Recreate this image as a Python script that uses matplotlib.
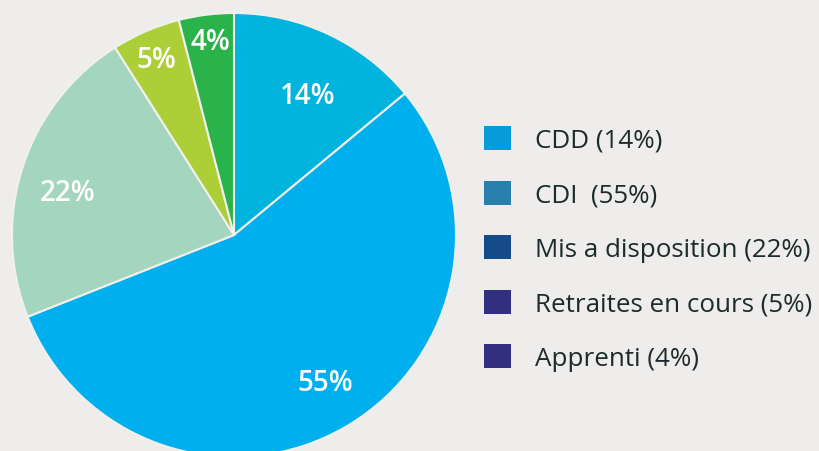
import numpy as np
import matplotlib.pyplot as plt
from matplotlib.patches import Patch

# DATA
categories = ['CDD', 'CDI', 'Mis a disposition', 'Retraites en cours', 'Apprenti']
values = [14, 55, 22, 5, 4]
legend_labels = ['CDD (14%)', 'CDI  (55%)', 'Mis a disposition (22%)',
                 'Retraites en cours (5%)', 'Apprenti (4%)']

# STYLE
slice_colors = ['#00b4dd', '#00b0ee', '#a3d5bf', '#accf38', '#2bb34b']
legend_colors = ['#079bd9', '#2a80ac', '#154b89', '#31307f', '#31307f']
label_dist = [0.726, 0.767, 0.776, 0.881, 0.894]
label_turn = [-1.9, 1.7, 2.5, 0.0, -0.4]   # degrees off the slice middle
bg = '#eeedeb'

W, H = 820, 452
fig = plt.figure(figsize=(W / 100, H / 100), dpi=100, facecolor=bg)

# pie axes: center (234, 236) px from top-left, radius 222 px
cx, cy, r = 234, 236, 222
ax = fig.add_axes([(cx - r) / W, (H - cy - r) / H, 2 * r / W, 2 * r / H])
ax.set_facecolor(bg)

wedges, _ = ax.pie(values, colors=slice_colors, startangle=90, counterclock=False,
                   wedgeprops=dict(edgecolor='#f0f0ec', linewidth=1.5))

for w, v, d, t in zip(wedges, values, label_dist, label_turn):
    mid = np.deg2rad((w.theta1 + w.theta2) / 2 + t)
    ax.text(d * np.cos(mid), d * np.sin(mid), f'{v}%', ha='center', va='center_baseline',
            color='white', fontsize=20, fontweight='semibold', family='Open Sans')

ax.set_xlim(-1, 1)
ax.set_ylim(-1, 1)
ax.set_aspect('equal')
ax.axis('off')

handles = [Patch(facecolor=c, edgecolor='none') for c in legend_colors]
leg = fig.legend(handles, legend_labels, loc='upper left',
                 bbox_to_anchor=(484 / W, 1 - 127 / H),
                 frameon=False, handlelength=1.04, handleheight=1.04,
                 handletextpad=0.92, labelspacing=1.07, borderaxespad=0, borderpad=0,
                 prop=dict(family='Open Sans', size=18.7))
for t in leg.get_texts():
    t.set_color('#1c2b2b')

fig.savefig('out.png', dpi=100, facecolor=bg)
